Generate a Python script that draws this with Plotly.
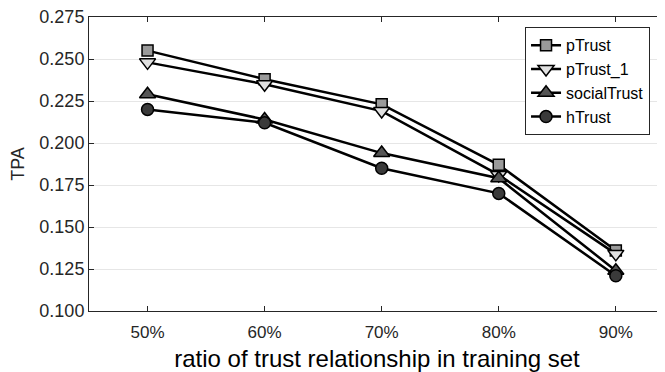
import plotly.graph_objects as go

x_vals = [50, 60, 70, 80, 90]
x_labels = ["50%", "60%", "70%", "80%", "90%"]
p_trust = [0.255, 0.238, 0.223, 0.187, 0.136]
p_trust_1 = [0.248, 0.235, 0.219, 0.181, 0.134]
social_trust = [0.229, 0.214, 0.194, 0.179, 0.124]
h_trust = [0.220, 0.212, 0.185, 0.170, 0.121]
y_ticks = [0.100, 0.125, 0.150, 0.175, 0.200, 0.225, 0.250, 0.275]

series = [
    ("pTrust", p_trust, "square", "#9a9a9a", 11),
    ("pTrust_1", p_trust_1, "triangle-down", "#e0e0e0", 14),
    ("socialTrust", social_trust, "triangle-up", "#555555", 14),
    ("hTrust", h_trust, "circle", "#3a3a3a", 12),
]

fig = go.Figure()
for name, ys, sym, col, sz in series:
    fig.add_trace(go.Scatter(
        x=x_vals, y=ys, name=name, mode="lines+markers",
        line=dict(color="black", width=2.5),
        marker=dict(symbol=sym, size=sz, color=col, line=dict(color="black", width=1.5)),
    ))

font_family = "Liberation Sans, Arial, Helvetica, sans-serif"
# page body has an 8px default margin, so the figure is 8px smaller to fit the window
fig.update_layout(
    width=657, height=364,
    margin=dict(l=81, r=0, t=9, b=61),
    plot_bgcolor="white", paper_bgcolor="white",
    font=dict(family=font_family, size=18, color="#262626"),
    showlegend=True,
    legend=dict(x=0.757, y=0.965, xanchor="left", yanchor="top",
                bgcolor="white", bordercolor="#262626", borderwidth=1,
                font=dict(size=16, color="black"), tracegroupgap=0,
                itemwidth=30, entrywidth=104, entrywidthmode="pixels"),
)
fig.update_xaxes(
    range=[45, 94.2], tickvals=x_vals, ticktext=x_labels,
    showgrid=False, zeroline=False, automargin=False,
    showline=True, linecolor="#262626", linewidth=1, mirror="ticks",
    ticks="inside", ticklen=5, tickcolor="#262626",
    tickfont=dict(size=17), ticklabelstandoff=6, ticklabeloverflow="allow",
    title=dict(text="ratio of trust relationship in training set", font=dict(size=24, color="black"), standoff=12),
)
fig.update_yaxes(
    range=[0.100, 0.275], tickvals=y_ticks, tickformat=".3f",
    showgrid=True, gridcolor="#e6e6e6", gridwidth=1, zeroline=False, automargin=False,
    showline=True, linecolor="#262626", linewidth=1, mirror="ticks",
    ticks="inside", ticklen=5, tickcolor="#262626",
    tickfont=dict(size=18), ticklabeloverflow="allow",
    title=dict(text="TPA", font=dict(size=18, color="#262626"), standoff=10),
)

fig.write_html("out.html")
